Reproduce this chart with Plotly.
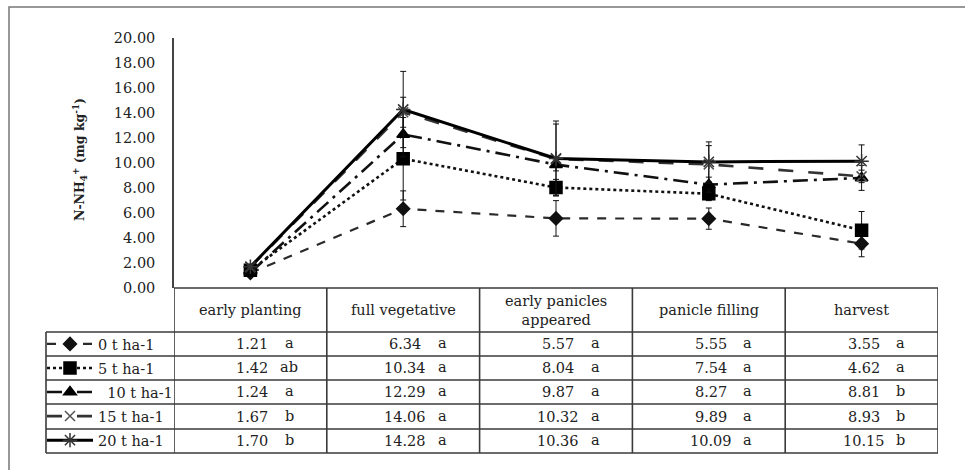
import plotly.graph_objects as go

# ---- data ----
stages = ["early planting", "full vegetative", "early panicles<br>appeared", "panicle filling", "harvest"]
series_names = ["0 t ha-1", "5 t ha-1", "10 t ha-1", "15 t ha-1", "20 t ha-1"]
legend_labels = ["0 t ha-1", "5 t ha-1", "  10 t ha-1", "15 t ha-1", "20 t ha-1"]

v_0t = [1.21, 6.34, 5.57, 5.55, 3.55]
v_5t = [1.42, 10.34, 8.04, 7.54, 4.62]
v_10t = [1.24, 12.29, 9.87, 8.27, 8.81]
v_15t = [1.67, 14.06, 10.32, 9.89, 8.93]
v_20t = [1.70, 14.28, 10.36, 10.09, 10.15]

e_0t = [0.15, 1.43, 1.42, 0.85, 1.05]
e_5t = [0.15, 3.30, 0.65, 0.55, 1.50]
e_10t = [0.15, 1.80, 0.50, 0.60, 1.00]
e_15t = [0.15, 1.20, 2.80, 1.50, 0.50]
e_20t = [0.15, 3.05, 3.00, 1.60, 1.30]

l_0t = ["a", "a", "a", "a", "a"]
l_5t = ["ab", "a", "a", "a", "a"]
l_10t = ["a", "a", "a", "a", "b"]
l_15t = ["b", "a", "a", "a", "b"]
l_20t = ["b", "a", "a", "a", "b"]

y_ticks = [0, 2, 4, 6, 8, 10, 12, 14, 16, 18, 20]

values = [v_0t, v_5t, v_10t, v_15t, v_20t]
errors = [e_0t, e_5t, e_10t, e_15t, e_20t]
letters = [l_0t, l_5t, l_10t, l_15t, l_20t]

# ---- styles ----
FONT = "DejaVu Serif, Liberation Serif, serif"
FS = 14.5
styles = [
    dict(dash="dash", width=2.2, color="#2a2a2a", symbol="diamond", msize=10, mcolor="#111"),
    dict(dash="dot", width=2.6, color="#111111", symbol="square", msize=12, mcolor="#000"),
    dict(dash="longdashdot", width=2.6, color="#111111", symbol="triangle-up", msize=11, mcolor="#000"),
    dict(dash="longdash", width=2.6, color="#333333", symbol="x-thin-open", msize=10, mcolor="#555"),
    dict(dash="solid", width=3.0, color="#000000", symbol="asterisk-open", msize=12, mcolor="#333"),
]

W_FIG, H_FIG = 965, 470
L, R, T, B = 174, 27, 38, 182
PW = W_FIG - L - R
PH = H_FIG - T - B


def xp(px):
    return (px - L) / PW


def yp(py):
    return (T + PH - py) / PH


fig = go.Figure()
xs = list(range(len(stages)))
for i, name in enumerate(series_names):
    s = styles[i]
    fig.add_trace(go.Scatter(
        x=xs, y=values[i], name=legend_labels[i], mode="lines+markers",
        line=dict(dash=s["dash"], width=s["width"], color=s["color"]),
        marker=dict(symbol=s["symbol"], size=s["msize"], color=s["mcolor"],
                    line=dict(width=1.5, color=s["mcolor"])),
        error_y=dict(type="data", array=errors[i], visible=True, color="#111",
                     thickness=1, width=3),
        legendgroup=name,
    ))

shapes = []
line_style = dict(color="#3a3a3a", width=1.6)
row_edges = [332, 356, 380, 404, 429, 453]
shapes.append(dict(type="line", xref="x", yref="paper", x0=-0.5, x1=4.5, y0=yp(288), y1=yp(288), line=line_style))
for ry in row_edges:
    shapes.append(dict(type="line", xref="paper", yref="paper", x0=xp(46), x1=1, y0=yp(ry), y1=yp(ry), line=line_style))
for k in range(len(stages) + 1):
    shapes.append(dict(type="line", xref="x", yref="paper", x0=k - 0.5, x1=k - 0.5,
                       y0=yp(288), y1=yp(453), line=line_style))
shapes.append(dict(type="line", xref="paper", yref="paper", x0=xp(46), x1=xp(46),
                   y0=yp(332), y1=yp(453), line=line_style))
shapes.append(dict(type="rect", xref="paper", yref="paper", x0=xp(9), x1=xp(1000), y0=yp(7), y1=yp(500),
                   line=dict(color="#777", width=1.5)))

annotations = []
for j, st in enumerate(stages):
    annotations.append(dict(x=j, y=yp(310), xref="x", yref="paper", text=st, showarrow=False,
                            xanchor="center", yanchor="middle",
                            font=dict(family=FONT, size=FS, color="#222"), align="center"))
for i in range(len(series_names)):
    cy = (row_edges[i] + row_edges[i + 1]) / 2
    for j in range(len(stages)):
        annotations.append(dict(x=j, y=yp(cy), xref="x", yref="paper", text=f"{values[i][j]:.2f}",
                                showarrow=False, xshift=2, xanchor="center", yanchor="middle",
                                font=dict(family=FONT, size=FS, color="#222")))
        annotations.append(dict(x=j, y=yp(cy - 1), xref="x", yref="paper", text=letters[i][j],
                                showarrow=False, xshift=39, xanchor="center", yanchor="middle",
                                font=dict(family=FONT, size=FS, color="#222")))

annotations.append(dict(x=xp(80), y=yp(160), xref="paper", yref="paper",
                        xanchor="center", yanchor="middle",
                        text="<b>N-NH<sub>4</sub><sup>+</sup> (mg kg<sup>-1</sup>)</b>",
                        textangle=-90, showarrow=False, font=dict(family=FONT, size=12.5, color="#222")))

fig.update_layout(
    width=W_FIG, height=H_FIG,
    margin=dict(l=L, r=R, t=T, b=B, autoexpand=False),
    paper_bgcolor="white", plot_bgcolor="white",
    font=dict(family=FONT, size=FS, color="#222"),
    showlegend=True,
    legend=dict(x=xp(42), y=yp(328), xanchor="left", yanchor="top",
                bgcolor="rgba(0,0,0,0)", borderwidth=0, tracegroupgap=2.2,
                traceorder="grouped", itemwidth=46,
                font=dict(family=FONT, size=FS, color="#222")),
    xaxis=dict(range=[-0.5, 4.5], showticklabels=False, showgrid=False, zeroline=False,
               showline=False, ticks=""),
    yaxis=dict(range=[0, 20], tickvals=y_ticks, tickformat=".2f", showgrid=False, zeroline=False,
               showline=True, linecolor="#444", linewidth=1.5, ticks="", ticklabelstandoff=14,
               tickfont=dict(family=FONT, size=FS, color="#222")),
    shapes=shapes, annotations=annotations,
)

fig.write_html("out.html", config={"displayModeBar": False},
               post_script="document.body.style.margin='0';document.body.style.overflow='hidden';")
